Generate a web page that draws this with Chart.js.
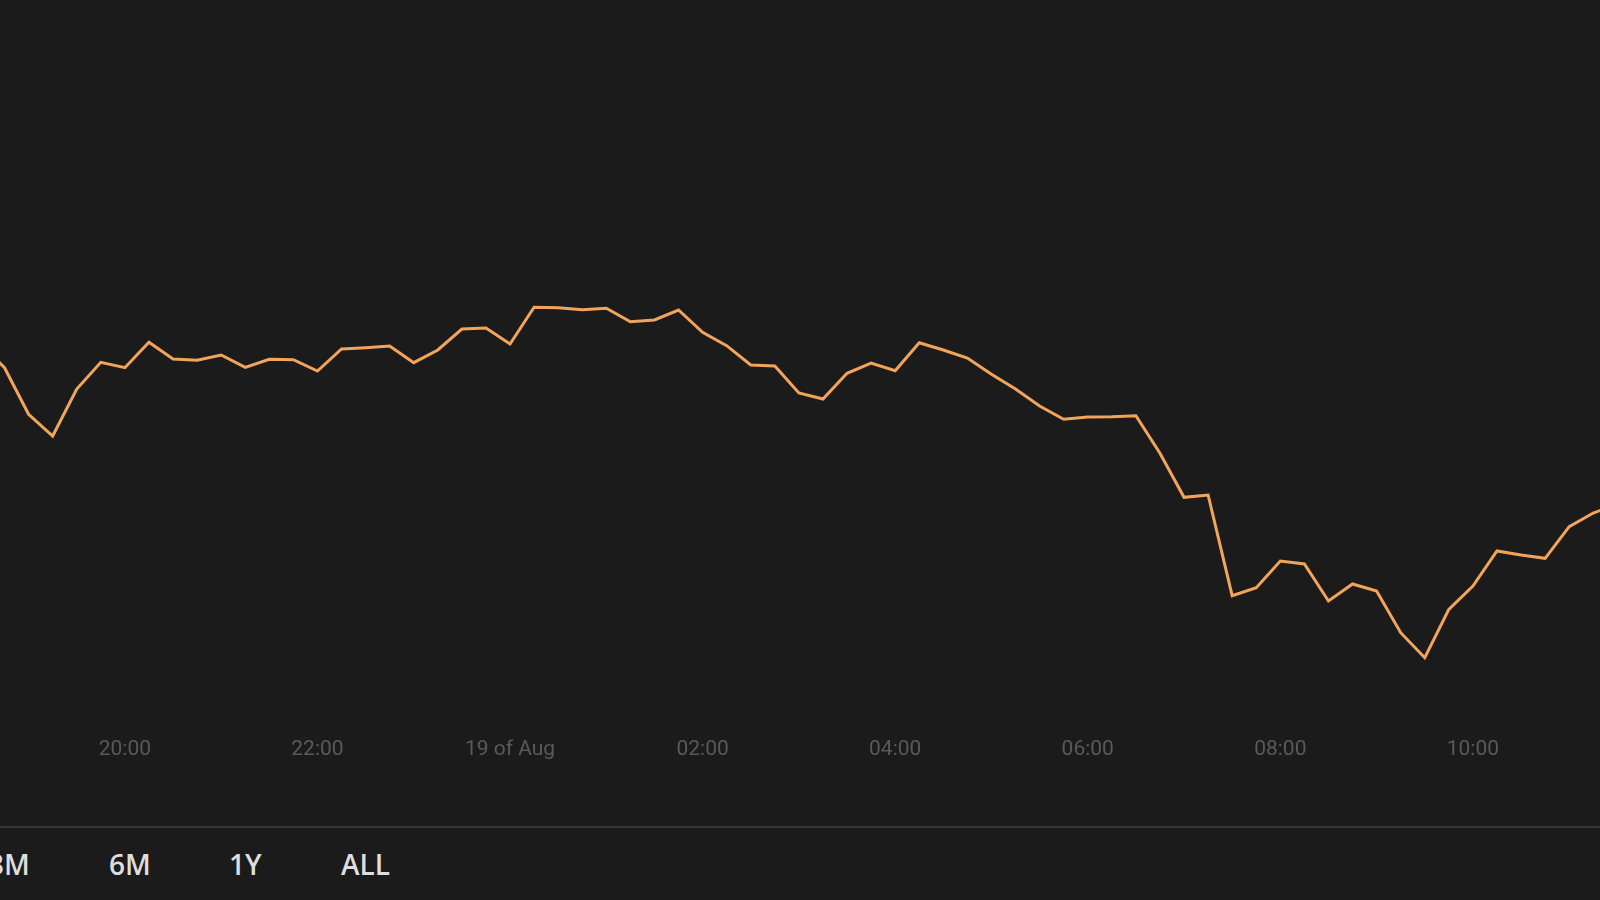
<!DOCTYPE html>
<html>
<head>
<meta charset="utf-8">
<script src="https://cdn.jsdelivr.net/npm/chart.js@4/dist/chart.umd.min.js"></script>
<style>
  html, body { margin: 0; padding: 0; background: #1b1b1b; width: 1600px; height: 900px; overflow: hidden; }
  #wrap { position: absolute; left: 0; top: 0; width: 1600px; height: 826px; }
  #sep { position: absolute; left: 0; top: 826px; width: 1600px; height: 2px; background: #383838; }
  .btn { position: absolute; top: 850px; font-family: "Open Sans", sans-serif; font-weight: 600; font-size: 28px; line-height: 28px; color: #dedede; white-space: nowrap; }
</style>
</head>
<body>
<div id="wrap"><canvas id="c" width="1600" height="826"></canvas></div>
<div id="sep"></div>
<div id="buttons"></div>
<script>
// ---- data (15-minute samples, 18 Aug 18:30 -> 19 Aug 11:30) ----
const times = [
  "18:30","18:45","19:00","19:15","19:30","19:45",
  "20:00","20:15","20:30","20:45","21:00","21:15","21:30","21:45",
  "22:00","22:15","22:30","22:45","23:00","23:15","23:30","23:45",
  "00:00","00:15","00:30","00:45","01:00","01:15","01:30","01:45",
  "02:00","02:15","02:30","02:45","03:00","03:15","03:30","03:45",
  "04:00","04:15","04:30","04:45","05:00","05:15","05:30","05:45",
  "06:00","06:15","06:30","06:45","07:00","07:15","07:30","07:45",
  "08:00","08:15","08:30","08:45","09:00","09:15","09:30","09:45",
  "10:00","10:15","10:30","10:45","11:00","11:15","11:30"
];
const prices = [
  35.70, 33.23, 28.57, 26.40, 31.10, 33.77,
  33.23, 35.77, 34.10, 33.97, 34.50, 33.27, 34.07, 34.03,
  32.90, 35.10, 35.23, 35.40, 33.73, 35.00, 37.10, 37.20,
  35.60, 39.27, 39.23, 39.03, 39.17, 37.83, 38.00, 39.00,
  36.77, 35.43, 33.50, 33.40, 30.70, 30.10, 32.67, 33.70,
  32.93, 35.73, 35.00, 34.20, 32.57, 31.10, 29.40, 28.07,
  28.30, 28.33, 28.43, 24.67, 20.27, 20.50, 10.43, 11.23,
  13.90, 13.60, 9.90, 11.60, 10.90, 6.73, 4.23, 9.07,
  11.40, 14.90, 14.50, 14.17, 17.33, 18.70, 19.60
];
const tickHours = [20, 22, 24, 26, 28, 30, 32, 34];
const tickLabels = ["20:00", "22:00", "19 of Aug", "02:00", "04:00", "06:00", "08:00", "10:00"];
const rangeButtons = ["3M", "6M", "1Y", "ALL"];

// hours since 18 Aug 00:00
function toHours(t) {
  const [h, m] = t.split(":").map(Number);
  return (h < 18 ? h + 24 : h) + m / 60;
}
const points = times.map((t, i) => ({ x: toHours(t), y: prices[i] }));

const ctx = document.getElementById("c").getContext("2d");
new Chart(ctx, {
  type: "line",
  data: {
    datasets: [{
      data: points,
      borderColor: "#f2a55a",
      borderWidth: 3,
      pointRadius: 0,
      pointHoverRadius: 0,
      tension: 0,
      fill: false,
      borderJoinStyle: "miter"
    }]
  },
  options: {
    responsive: false,
    devicePixelRatio: 1,
    animation: false,
    events: [],
    layout: { padding: 0 },
    plugins: { legend: { display: false }, tooltip: { enabled: false } },
    scales: {
      x: {
        type: "linear",
        min: 18.703,
        max: 35.320,
        offset: false,
        grid: { display: false, drawTicks: false },
        border: { display: false },
        afterFit: s => { s.height = 106; },
        afterBuildTicks: s => { s.ticks = tickHours.map(v => ({ value: v })); },
        ticks: {
          autoSkip: false,
          maxRotation: 0,
          padding: 17,
          color: "#595959",
          font: { family: "Roboto", size: 21 },
          callback: (v) => {
            const k = tickHours.indexOf(v);
            return k >= 0 ? tickLabels[k] : "";
          }
        }
      },
      y: {
        display: false,
        min: -2,
        max: 70
      }
    }
  }
});

// range selector row (plain page text under the chart)
const lefts = [-12, 109, 229, 341];
const bw = document.getElementById("buttons");
rangeButtons.forEach((b, i) => {
  const s = document.createElement("span");
  s.className = "btn";
  s.style.left = lefts[i] + "px";
  s.textContent = b;
  bw.appendChild(s);
});
</script>
</body>
</html>
